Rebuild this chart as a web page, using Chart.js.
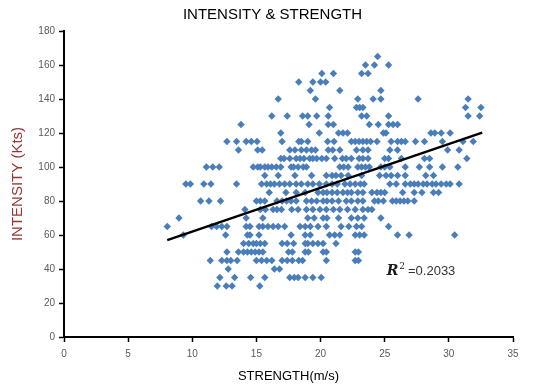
<!DOCTYPE html>
<html>
<head>
<meta charset="utf-8">
<script src="https://cdn.jsdelivr.net/npm/chart.js@4.4.1/dist/chart.umd.min.js"></script>
<style>
  html, body { margin: 0; padding: 0; background: #ffffff; }
  canvas { display: block; }
</style>
</head>
<body>
<canvas id="c" width="545" height="387"></canvas>
<script>
// ---- DATA ----
// Intensity levels (Kts) and, for each level, the strengths (m/s) of the points in that row
const intensityLevels = [165,160,155,150,145,140,135,130,125,120,115,110,105,100,95,90,85,80,75,70,65,60,55,50,45,40,35,30];
const s165 = [24.45];
const s160 = [23.5, 24.2, 25.3];
const s155 = [20.1, 21.0, 23.2, 23.7];
const s150 = [18.3, 19.4, 20.0, 20.4];
const s145 = [19.2, 21.5, 24.7];
const s140 = [16.7, 19.6, 22.9, 24.1, 24.7, 27.6, 31.5];
const s135 = [20.7, 22.8, 23.05, 23.3, 31.3, 32.5];
const s130 = [16.2, 17.4, 18.6, 19.0, 19.7, 20.6, 23.2, 23.6, 25.3, 31.5, 32.4];
const s125 = [13.8, 19.1, 20.6, 21.0, 23.8, 24.5, 25.3, 25.65, 26.0];
const s120 = [16.9, 19.9, 21.4, 21.75, 22.1, 24.9, 25.1, 28.6, 28.9, 29.4, 30.1];
const s115 = [12.7, 13.45, 14.2, 14.6, 15.05, 17.0, 18.3, 18.5, 19.0, 20.55, 21.05, 22.4, 22.7, 23.0, 23.3, 23.6, 23.9, 24.4, 25.5, 26.0, 26.3, 26.6, 27.4, 28.1, 29.5, 31.1, 31.9];
const s110 = [13.6, 15.1, 15.45, 17.6, 18.0, 18.5, 18.9, 19.3, 19.6, 20.6, 20.95, 21.5, 22.8, 23.3, 23.7, 25.4, 26.0, 29.9, 30.8];
const s105 = [16.9, 17.15, 17.6, 18.1, 18.4, 18.7, 19.15, 19.4, 19.7, 20.1, 20.45, 21.1, 21.7, 22.0, 22.4, 23.0, 23.3, 23.7, 25.0, 25.3, 26.3, 28.1, 28.5, 31.4];
const s100 = [11.1, 11.6, 12.1, 14.75, 15.1, 15.3, 15.65, 15.9, 16.2, 16.55, 16.9, 17.7, 17.9, 18.25, 18.65, 18.9, 21.5, 21.8, 22.15, 22.9, 23.2, 23.5, 23.8, 24.7, 25.0, 25.4, 26.6, 27.7, 28.5, 29.5, 30.7];
const s95  = [15.65, 16.7, 18.0, 19.3, 20.45, 20.9, 21.2, 21.6, 22.15, 23.2, 24.6, 25.1, 25.5, 26.0, 26.6, 28.2, 28.8];
const s90  = [9.5, 9.85, 10.9, 11.45, 13.45, 15.4, 15.8, 16.1, 16.4, 16.8, 17.2, 17.6, 18.1, 18.5, 19.0, 19.4, 19.9, 20.45, 20.9, 21.3, 21.9, 22.3, 22.7, 23.1, 23.4, 25.4, 25.9, 26.6, 27.0, 27.3, 27.6, 28.0, 28.3, 28.7, 29.0, 29.4, 29.8, 30.1, 30.8];
const s85  = [16.0, 17.3, 18.1, 18.8, 19.8, 20.2, 20.5, 20.9, 21.3, 21.75, 22.1, 22.4, 22.9, 23.3, 24.0, 24.4, 24.7, 25.0, 26.4, 27.3, 27.9, 28.8, 29.2];
const s80  = [10.65, 11.3, 12.2, 15.0, 15.3, 15.65, 16.6, 17.0, 17.35, 17.7, 18.1, 18.9, 19.3, 19.7, 20.2, 20.5, 20.9, 21.4, 22.0, 22.4, 22.9, 23.3, 24.2, 24.5, 24.9, 25.6, 25.9, 26.2, 26.5, 26.8, 27.3];
const s75  = [14.1, 15.3, 15.7, 16.3, 16.6, 16.95, 17.75, 18.25, 18.9, 19.4, 19.95, 20.45, 21.0, 21.5, 22.1, 22.7, 23.3, 23.7, 24.0];
const s70  = [8.96, 14.2, 15.5, 19.0, 19.5, 20.2, 20.5, 21.4, 22.4, 22.9, 23.4, 24.7];
const s65  = [8.05, 11.5, 11.9, 12.3, 12.7, 14.2, 14.5, 15.2, 15.5, 15.9, 16.3, 16.7, 17.2, 18.4, 18.8, 19.2, 19.8, 20.45, 21.6, 22.2, 22.8, 23.2, 25.3];
const s60  = [9.3, 12.6, 14.3, 14.5, 15.2, 17.7, 18.8, 19.2, 20.7, 21.1, 21.5, 22.7, 23.05, 23.4, 26.0, 26.9, 30.45];
const s55  = [14.0, 14.4, 14.75, 15.0, 15.3, 15.65, 17.0, 17.4, 17.9, 18.8, 19.0, 19.4, 19.8, 20.2, 21.2];
const s50  = [12.7, 13.6, 14.0, 14.3, 14.6, 14.9, 15.2, 15.5, 17.5, 17.8, 18.8, 19.05, 20.2, 20.45, 22.7, 22.95];
const s45  = [11.4, 12.3, 12.7, 13.0, 13.5, 15.0, 15.4, 15.8, 16.2, 17.0, 17.4, 17.8, 18.3, 18.6, 20.45, 22.7, 22.95];
const s40  = [12.8, 16.4, 16.8];
const s35  = [12.15, 13.3, 14.55, 15.65, 17.6, 17.95, 18.25, 18.8, 19.4, 20.05];
const s30  = [11.95, 12.65, 13.1, 15.26];
const strengthRows = [s165,s160,s155,s150,s145,s140,s135,s130,s125,s120,s115,s110,s105,s100,s95,s90,s85,s80,s75,s70,s65,s60,s55,s50,s45,s40,s35,s30];

// Linear trend line end points (strength, intensity)
const trendStrength = [8.05, 32.6];
const trendIntensity = [57, 120.2];
const r2Label = '=0.2033';
const r2Anchor = [25.15, 36.5]; // strength, intensity of the label's start

// Axis ticks
const xTicks = [0, 5, 10, 15, 20, 25, 30, 35];
const yTicks = [0, 20, 40, 60, 80, 100, 120, 140, 160, 180];

// ---- BUILD ----
const points = [];
intensityLevels.forEach((lvl, i) => strengthRows[i].forEach(s => points.push({x: s, y: lvl})));
const trend = trendStrength.map((s, i) => ({x: s, y: trendIntensity[i]}));

const FONT = '"Liberation Sans", Arial, sans-serif';

const r2Plugin = {
  id: 'r2text',
  afterDatasetsDraw(chart) {
    const {ctx, scales: {x, y}} = chart;
    const px = x.getPixelForValue(r2Anchor[0]);
    const py = y.getPixelForValue(r2Anchor[1]);
    ctx.save();
    ctx.fillStyle = '#1a1a1a';
    ctx.textBaseline = 'alphabetic';
    ctx.textAlign = 'left';
    ctx.font = 'italic bold 14px "DejaVu Serif", serif';
    ctx.fillText('R', px, py);
    let w = ctx.measureText('R').width + 1;
    ctx.font = '9px "DejaVu Serif", serif';
    ctx.fillText('2', px + w, py - 6);
    w += ctx.measureText('2').width + 3;
    ctx.font = '13px ' + FONT;
    ctx.fillStyle = '#333';
    ctx.fillText(r2Label, px + w, py);
    ctx.restore();
  }
};

new Chart(document.getElementById('c'), {
  type: 'scatter',
  data: {
    datasets: [
      {
        type: 'line',
        data: trend,
        borderColor: '#000000',
        borderWidth: 2.5,
        pointRadius: 0,
        fill: false
      },
      {
        data: points,
        pointStyle: 'rectRot',
        pointRadius: 3.7,
        pointBorderWidth: 0,
        backgroundColor: '#4A7EBB',
        borderColor: '#4A7EBB'
      }
    ]
  },
  options: {
    responsive: false,
    animation: false,
    devicePixelRatio: 1,
    layout: { padding: { left: 0, right: 0, top: 0, bottom: 0 } },
    plugins: {
      legend: { display: false },
      tooltip: { enabled: false },
      title: {
        display: true,
        text: 'INTENSITY & STRENGTH',
        color: '#000000',
        font: { family: FONT, size: 15, weight: 'normal' },
        padding: { top: 6, bottom: 7 }
      }
    },
    scales: {
      x: {
        type: 'linear',
        min: 0, max: 35,
        afterBuildTicks: s => { s.ticks = xTicks.map(v => ({value: v})); },
        afterFit: s => { s.height = 50; },
        ticks: { color: '#595959', font: { family: FONT, size: 10 }, padding: 6, maxRotation: 0 },
        grid: { drawOnChartArea: false, drawTicks: true, tickLength: 5, tickColor: '#000', tickWidth: 1.5 },
        border: { display: true, color: '#000', width: 2 },
        title: {
          display: true, text: 'STRENGTH(m/s)', color: '#000',
          font: { family: FONT, size: 13 }, padding: { top: 0, bottom: 3 }
        }
      },
      y: {
        type: 'linear',
        min: 0, max: 180,
        afterBuildTicks: s => { s.ticks = yTicks.map(v => ({value: v})); },
        afterFit: s => { s.width = 64; },
        ticks: { color: '#595959', font: { family: FONT, size: 10 }, padding: 4 },
        grid: { drawOnChartArea: false, drawTicks: true, tickLength: 5, tickColor: '#000', tickWidth: 1.5 },
        border: { display: true, color: '#000', width: 2 },
        title: {
          display: true, text: 'INTENSITY (Kts)', color: '#943634',
          font: { family: FONT, size: 15 }, padding: { top: 9, bottom: 0 }
        }
      },
      yRight: {
        type: 'linear',
        position: 'right',
        min: 0, max: 180,
        display: true,
        afterFit: s => { s.width = 32; },
        ticks: { display: false },
        grid: { display: false, drawTicks: false },
        border: { display: false },
        title: { display: false }
      }
    }
  },
  plugins: [r2Plugin]
});
</script>
</body>
</html>
